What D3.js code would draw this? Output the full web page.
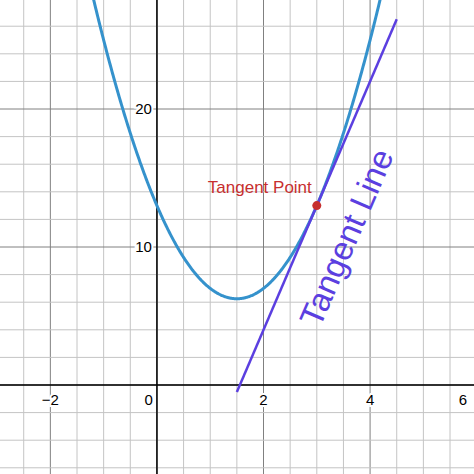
<!DOCTYPE html>
<html><head><meta charset="utf-8">
<script src="https://cdn.jsdelivr.net/npm/d3@7"></script>
<style>body{margin:0;background:#fff}svg{display:block}text{font-family:Arial,"Liberation Sans",sans-serif}</style>
</head><body><svg id="chart" width="474" height="474"></svg>
<script>
(function () {
	/* f(x) = 3x^2 - 9x + 13, tangent at x = 3 */
	var coef = [3, -9, 13];
	var tangentX = 3;
	var tangentRange = [1.5, 4.5];
	var xTicks = [-2, 0, 2, 4, 6];
	var yTicks = [10, 20];

	var W = 474, H = 474;
	var svg = d3.select("#chart");
	var x = d3.scaleLinear().domain([-2.945, 5.95]).range([0, W]);
	var y = d3.scaleLinear().domain([-6.45, 27.9]).range([H, 0]);

	function f(v) { return coef[0] * v * v + coef[1] * v + coef[2]; }
	var slope = 2 * coef[0] * tangentX + coef[1];
	var ty = f(tangentX);
	function tl(v) { return slope * (v - tangentX) + ty; }

	/* grid */
	var g = svg.append("g");
	d3.range(-3, 6.01, 0.5).forEach(function (v) {
		g.append("line").attr("x1", x(v)).attr("x2", x(v)).attr("y1", 0).attr("y2", H)
			.attr("stroke", v % 2 === 0 ? "#808080" : "#c4c4c4").attr("stroke-width", 1);
	});
	d3.range(-6, 28.1, 2).forEach(function (v) {
		g.append("line").attr("y1", y(v)).attr("y2", y(v)).attr("x1", 0).attr("x2", W)
			.attr("stroke", v % 10 === 0 ? "#808080" : "#c4c4c4").attr("stroke-width", 1);
	});
	/* axes */
	g.append("line").attr("x1", x(0)).attr("x2", x(0)).attr("y1", 0).attr("y2", H).attr("stroke", "#000").attr("stroke-width", 1.5);
	g.append("line").attr("y1", y(0)).attr("y2", y(0)).attr("x1", 0).attr("x2", W).attr("stroke", "#000").attr("stroke-width", 1.5);

	/* tick labels */
	function label(t, px, py, anchor) {
		svg.append("text").attr("x", px).attr("y", py).attr("text-anchor", anchor)
			.attr("font-size", 15).attr("stroke", "#fff").attr("stroke-width", 4)
			.attr("paint-order", "stroke").attr("fill", "#000").text(t);
	}
	xTicks.forEach(function (t) {
		if (t === 0) label("0", x(0) - 4, y(0) + 20, "end");
		else if (x(t) > W - 10) label(t, W - 7, y(0) + 20, "end");
		else label(t < 0 ? "\u2212" + (-t) : t, x(t), y(0) + 20, "middle");
	});
	yTicks.forEach(function (t) { label(t, x(0) - 5, y(t) + 5, "end"); });

	/* parabola */
	var line = d3.line().x(function (d) { return x(d); }).y(function (d) { return y(f(d)); });
	svg.append("path").datum(d3.range(-1.5, 4.6, 0.01)).attr("d", line)
		.attr("fill", "none").attr("stroke", "#3592cc").attr("stroke-width", 3);

	/* tangent line */
	svg.append("line").attr("x1", x(tangentRange[0])).attr("y1", y(tl(tangentRange[0])))
		.attr("x2", x(tangentRange[1])).attr("y2", y(tl(tangentRange[1])))
		.attr("stroke", "#5b3fe0").attr("stroke-width", 2.5);

	/* tangent point */
	svg.append("circle").attr("cx", x(tangentX)).attr("cy", y(ty)).attr("r", 4.5).attr("fill", "#c72f2f");
	svg.append("text").attr("x", x(tangentX) - 5).attr("y", y(ty) - 13).attr("text-anchor", "end")
		.attr("font-size", 17).attr("fill", "#c72f2f").text("Tangent Point");

	/* rotated label */
	var ang = -Math.atan(slope * (y(0) - y(1)) / (x(1) - x(0))) * 180 / Math.PI;
	svg.append("text").attr("transform", "translate(357,242) rotate(" + ang + ")")
		.attr("text-anchor", "middle").attr("font-size", 33).attr("fill", "#5b3fe0").text("Tangent Line");
})();
</script></body></html>
